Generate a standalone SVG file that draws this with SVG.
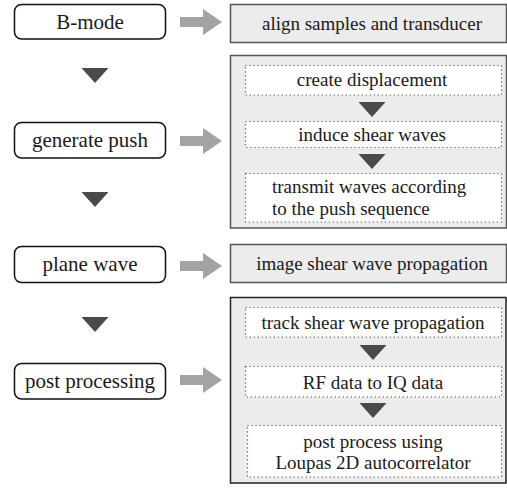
<svg xmlns="http://www.w3.org/2000/svg" width="507" height="490" viewBox="0 0 507 490" font-family="'Liberation Serif', 'DejaVu Serif', serif">
<style>
.step{fill:#fff;stroke:#111;stroke-width:1.5}
.panel{fill:#ececec;stroke:#555;stroke-width:1.5}
.panel2{fill:#ececec;stroke:#222;stroke-width:1.5}
.sub{fill:#fff;stroke:#555;stroke-width:1.2;stroke-dasharray:1.2 2.8}
.tri{fill:#4a4a4a}
.garrow{fill:#a3a3a3}
.lt{font-family:'Liberation Serif','DejaVu Serif',serif;font-size:21px;text-anchor:middle;fill:#1a1a1a}
.rt{font-family:'Liberation Serif','DejaVu Serif',serif;font-size:19px;text-anchor:middle;fill:#1a1a1a}
.rl{font-family:'Liberation Serif','DejaVu Serif',serif;font-size:19px;fill:#1a1a1a}
</style>
<defs>
<path id="ga" d="M180,-5 H203 V-13 L222,0 L203,13 V5 H180 Z"/>
<path id="dt" d="M-13.5,0 H13.5 L0,15 Z"/>
</defs>
<g id="bmode"><rect class="step" x="14.5" y="4.5" width="151" height="34.5" rx="7"/><text class="lt" x="90" y="29">B-mode</text></g>
<g id="generate-push"><rect class="step" x="14.5" y="122.5" width="151" height="35.5" rx="7"/><text class="lt" x="90" y="147">generate push</text></g>
<g id="plane-wave"><rect class="step" x="14.5" y="246.5" width="151" height="36" rx="7"/><text class="lt" x="90" y="271">plane wave</text></g>
<g id="post-processing"><rect class="step" x="14.5" y="363.5" width="151" height="35.5" rx="7"/><text class="lt" x="90" y="388">post processing</text></g>
<g id="align"><rect class="panel" x="230.5" y="4.5" width="276" height="38"/><text class="rt" x="372" y="30">align samples and transducer</text></g>
<g id="push-steps">
<rect class="panel" x="230.5" y="55.5" width="276" height="172.5"/>
<g id="create-displacement"><rect class="sub" x="245.5" y="65.5" width="256" height="29.5"/><text class="rt" x="372" y="86">create displacement</text></g>
<g id="induce"><rect class="sub" x="245.5" y="121.5" width="256" height="26"/><text class="rt" x="372" y="141">induce shear waves</text></g>
<g id="transmit"><rect class="sub" x="245.5" y="173.5" width="256" height="48.5"/><text class="rl" x="272" y="193">transmit waves according</text><text class="rl" x="272" y="215">to the push sequence</text></g>
</g>
<g id="image-propagation"><rect class="panel" x="230.5" y="244.5" width="276" height="38"/><text class="rt" x="372" y="270">image shear wave propagation</text></g>
<g id="post-steps">
<rect class="panel2" x="230.5" y="297.5" width="275.5" height="185.5"/>
<g id="track"><rect class="sub" x="245.5" y="307.5" width="256" height="29.5"/><text class="rt" x="373" y="329">track shear wave propagation</text></g>
<g id="rf-iq"><rect class="sub" x="245.5" y="366.5" width="256" height="30.5"/><text class="rt" x="373" y="389">RF data to IQ data</text></g>
<g id="loupas"><rect class="sub" x="247.5" y="425.5" width="254" height="51.5"/><text class="rt" x="373" y="448">post process using</text><text class="rt" x="373" y="469">Loupas 2D autocorrelator</text></g>
</g>
<g id="connectors">
<use href="#ga" class="garrow" y="22"/>
<use href="#ga" class="garrow" y="141"/>
<use href="#ga" class="garrow" y="266"/>
<use href="#ga" class="garrow" y="380"/>
<use href="#dt" class="tri" x="95" y="68"/>
<use href="#dt" class="tri" x="95" y="192"/>
<use href="#dt" class="tri" x="95" y="317"/>
<use href="#dt" class="tri" x="372" y="102"/>
<use href="#dt" class="tri" x="372" y="154"/>
<use href="#dt" class="tri" x="373" y="345"/>
<use href="#dt" class="tri" x="373" y="403"/>
</g>
</svg>
